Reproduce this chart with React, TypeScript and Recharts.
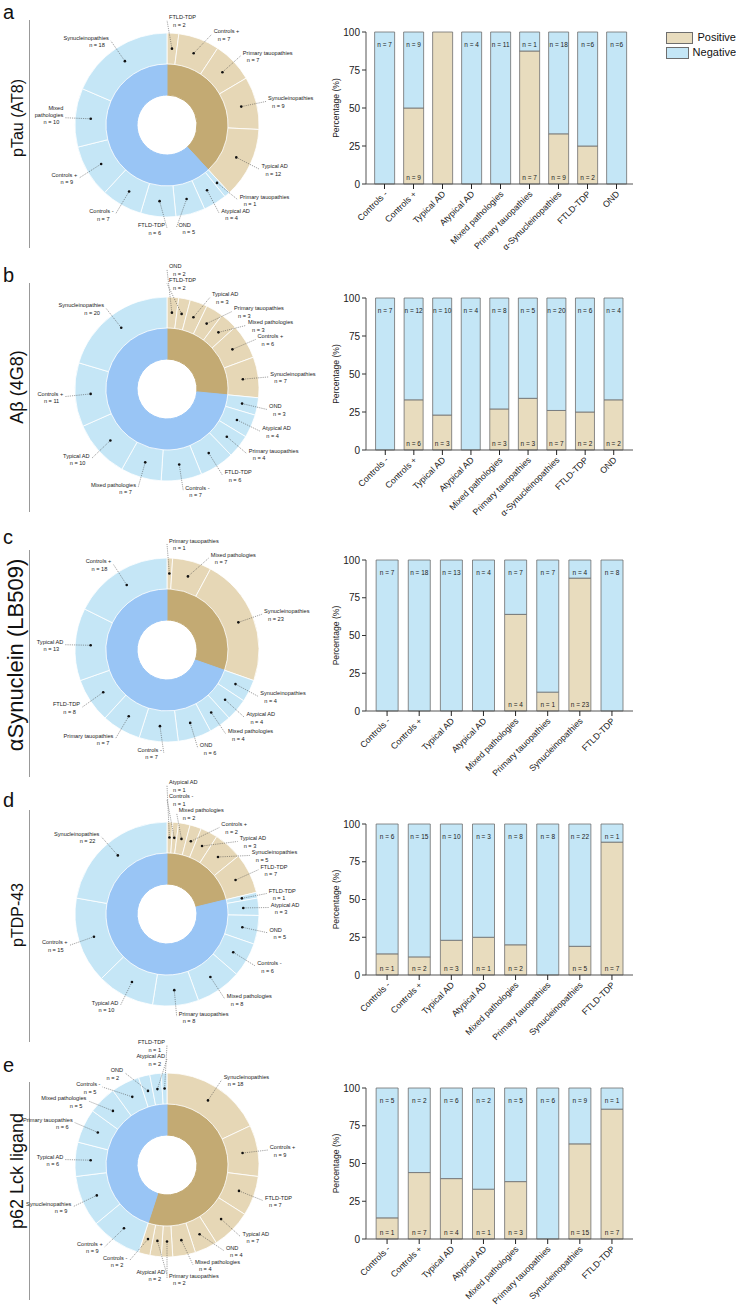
import React from 'react';
import { PieChart, Pie, Cell, BarChart, Bar, XAxis, YAxis, LabelList, Legend } from 'recharts';

const FONT = "'Liberation Sans', Arial, Helvetica, sans-serif";
const POS_OUT = '#E6D7B6';
const NEG_OUT = '#C5E6F6';
const POS_IN = '#C3AA73';
const NEG_IN = '#99C5F5';
const BAR_POS = '#E8DCBE';
const BAR_NEG = '#C4E6F6';
const EDGE = '#6E6E6E';

// ---------- Panel a : pTau (AT8)
const aPosGroups = ['FTLD-TDP', 'Controls +', 'Primary tauopathies', 'Synucleinopathies', 'Typical AD'];
const aPosN = [2, 7, 7, 9, 12];
const aNegGroups = ['Primary tauopathies', 'Atypical AD', 'OND', 'FTLD-TDP', 'Controls -', 'Controls +', 'Mixed pathologies', 'Synucleinopathies'];
const aNegN = [1, 4, 5, 6, 7, 9, 10, 18];
const aCategories = ['Controls -', 'Controls +', 'Typical AD', 'Atypical AD', 'Mixed pathologies', 'Primary tauopathies', 'α-Synucleinopathies', 'FTLD-TDP', 'OND'];
const aPositivePct = [0, 50, 100, 0, 0, 87.5, 33, 25, 0];
const aTopLabels = ['n = 7', 'n = 9', 'n = 13', 'n = 4', 'n = 11', 'n = 1', 'n = 18', 'n =6', 'n =6'];
const aBottomLabels = ['', 'n = 9', '', '', '', 'n = 7', 'n = 9', 'n = 2', ''];

// ---------- Panel b : Aβ (4G8)
const bPosGroups = ['OND', 'FTLD-TDP', 'Typical AD', 'Primary tauopathies', 'Mixed pathologies', 'Controls +', 'Synucleinopathies'];
const bPosN = [2, 2, 3, 3, 3, 6, 7];
const bNegGroups = ['OND', 'Atypical AD', 'Primary tauopathies', 'FTLD-TDP', 'Controls -', 'Mixed pathologies', 'Typical AD', 'Controls +', 'Synucleinopathies'];
const bNegN = [3, 4, 4, 6, 7, 7, 10, 11, 20];
const bCategories = ['Controls -', 'Controls +', 'Typical AD', 'Atypical AD', 'Mixed pathologies', 'Primary tauopathies', 'α-Synucleinopathies', 'FTLD-TDP', 'OND'];
const bPositivePct = [0, 33, 23, 0, 27, 34, 26, 25, 33];
const bTopLabels = ['n = 7', 'n = 12', 'n = 10', 'n = 4', 'n = 8', 'n = 5', 'n = 20', 'n = 6', 'n = 4'];
const bBottomLabels = ['', 'n = 6', 'n = 3', '', 'n = 3', 'n = 3', 'n = 7', 'n = 2', 'n = 2'];

// ---------- Panel c : αSynuclein (LB509)
const cPosGroups = ['Primary tauopathies', 'Mixed pathologies', 'Synucleinopathies'];
const cPosN = [1, 7, 23];
const cNegGroups = ['Synucleinopathies', 'Atypical AD', 'Mixed pathologies', 'OND', 'Controls -', 'Primary tauopathies', 'FTLD-TDP', 'Typical AD', 'Controls +'];
const cNegN = [4, 4, 4, 6, 7, 7, 8, 13, 18];
const cCategories = ['Controls -', 'Controls +', 'Typical AD', 'Atypical AD', 'Mixed pathologies', 'Primary tauopathies', 'Synucleinopathies', 'FTLD-TDP'];
const cPositivePct = [0, 0, 0, 0, 64, 12.5, 88, 0];
const cTopLabels = ['n = 7', 'n = 18', 'n = 13', 'n = 4', 'n = 7', 'n = 7', 'n = 4', 'n = 8'];
const cBottomLabels = ['', '', '', '', 'n = 4', 'n = 1', 'n = 23', ''];

// ---------- Panel d : pTDP-43
const dPosGroups = ['Atypical AD', 'Controls -', 'Mixed pathologies', 'Controls +', 'Typical AD', 'Synucleinopathies', 'FTLD-TDP'];
const dPosN = [1, 1, 2, 2, 3, 5, 7];
const dNegGroups = ['FTLD-TDP', 'Atypical AD', 'OND', 'Controls -', 'Mixed pathologies', 'Primary tauopathies', 'Typical AD', 'Controls +', 'Synucleinopathies'];
const dNegN = [1, 3, 5, 6, 8, 8, 10, 15, 22];
const dCategories = ['Controls -', 'Controls +', 'Typical AD', 'Atypical AD', 'Mixed pathologies', 'Primary tauopathies', 'Synucleinopathies', 'FTLD-TDP'];
const dPositivePct = [14, 12, 23, 25, 20, 0, 19, 88];
const dTopLabels = ['n = 6', 'n = 15', 'n = 10', 'n = 3', 'n = 8', 'n = 8', 'n = 22', 'n = 1'];
const dBottomLabels = ['n = 1', 'n = 2', 'n = 3', 'n = 1', 'n = 2', '', 'n = 5', 'n = 7'];

// ---------- Panel e : p62 Lck ligand
const ePosGroups = ['Synucleinopathies', 'Controls +', 'FTLD-TDP', 'Typical AD', 'OND', 'Mixed pathologies', 'Primary tauopathies', 'Atypical AD', 'Controls -'];
const ePosN = [18, 9, 7, 7, 4, 4, 2, 2, 2];
const eNegGroups = ['Controls +', 'Synucleinopathies', 'Typical AD', 'Primary tauopathies', 'Mixed pathologies', 'Controls -', 'OND', 'Atypical AD', 'FTLD-TDP'];
const eNegN = [9, 9, 6, 6, 5, 5, 2, 2, 1];
const eCategories = ['Controls -', 'Controls +', 'Typical AD', 'Atypical AD', 'Mixed pathologies', 'Primary tauopathies', 'Synucleinopathies', 'FTLD-TDP'];
const ePositivePct = [14, 44, 40, 33, 38, 0, 63, 86];
const eTopLabels = ['n = 5', 'n = 2', 'n = 6', 'n = 2', 'n = 5', 'n = 6', 'n = 9', 'n = 1'];
const eBottomLabels = ['n = 1', 'n = 7', 'n = 4', 'n = 1', 'n = 3', '', 'n = 15', 'n = 7'];

const panelLetters = ['a', 'b', 'c', 'd', 'e'];
const panelTitles = ['pTau (AT8)', 'Aβ (4G8)', 'αSynuclein (LB509)', 'pTDP-43', 'p62 Lck ligand'];

// layout (page coordinates)
const LAYOUT = [
  { letterY: 19, titleY: 118, titleSize: 16, lineY: [20, 248], cy: 125, plotTop: 32, plotBottom: 184, padL: 4, padR: 2 },
  { letterY: 282, titleY: 387, titleSize: 18, lineY: [283, 512], cy: 389, plotTop: 298, plotBottom: 450, padL: 5, padR: 5 },
  { letterY: 544, titleY: 655, titleSize: 22, lineY: [550, 777], cy: 650, plotTop: 560, plotBottom: 711, padL: 5, padR: 5 },
  { letterY: 807, titleY: 915, titleSize: 16, lineY: [810, 1042], cy: 914, plotTop: 824, plotBottom: 975, padL: 5, padR: 5 },
  { letterY: 1072, titleY: 1171, titleSize: 18, lineY: [1082, 1300], cy: 1165, plotTop: 1088, plotBottom: 1239, padL: 5, padR: 5 },
];

const PANELS = [
  { posGroups: aPosGroups, posN: aPosN, negGroups: aNegGroups, negN: aNegN, cats: aCategories, pct: aPositivePct, top: aTopLabels, bottom: aBottomLabels },
  { posGroups: bPosGroups, posN: bPosN, negGroups: bNegGroups, negN: bNegN, cats: bCategories, pct: bPositivePct, top: bTopLabels, bottom: bBottomLabels },
  { posGroups: cPosGroups, posN: cPosN, negGroups: cNegGroups, negN: cNegN, cats: cCategories, pct: cPositivePct, top: cTopLabels, bottom: cBottomLabels },
  { posGroups: dPosGroups, posN: dPosN, negGroups: dNegGroups, negN: dNegN, cats: dCategories, pct: dPositivePct, top: dTopLabels, bottom: dBottomLabels },
  { posGroups: ePosGroups, posN: ePosN, negGroups: eNegGroups, negN: eNegN, cats: eCategories, pct: ePositivePct, top: eTopLabels, bottom: eBottomLabels },
];

const PIE_LEFT = 20;
const PIE_W = 300;
const PIE_H = 270;
const PCX = 147;
const PCY = 135;
const R_HOLE = 30;
const R_MID = 61;
const R_OUT = 92;
const LABEL_R = 102;
const LABEL_GAP = 14;
const LFS = 5.6;

type LabelPos = { i: number; side: number; x: number; y: number };

function layoutLabels(values: number[], cx: number, cy: number, R: number, gap: number): LabelPos[] {
  const total = values.reduce((a, b) => a + b, 0);
  let acc = 0;
  const items: LabelPos[] = values.map((v, i) => {
    const ang = ((acc + v / 2) / total) * 2 * Math.PI;
    acc += v;
    const s = Math.sin(ang);
    return { i, side: s >= 0 ? 1 : -1, x: cx + R * s, y: cy - R * Math.cos(ang) };
  });
  [1, -1].forEach((side) => {
    const g = items.filter((it) => it.side === side).sort((a, b) => a.y - b.y);
    for (let iter = 0; iter < 500; iter++) {
      let moved = false;
      for (let k = 1; k < g.length; k++) {
        const ov = g[k - 1].y + gap - g[k].y;
        if (ov > 0.01) {
          g[k - 1].y -= ov / 2;
          g[k].y += ov / 2;
          moved = true;
        }
      }
      if (!moved) break;
    }
  });
  items.forEach((it) => {
    const dy = it.y - cy;
    const dx = Math.sqrt(Math.max(R * R - dy * dy, 0));
    it.x = cx + it.side * dx;
  });
  return items;
}

const makeLabel = (layout: LabelPos[]) => (props: any) => {
  const { cx, cy, midAngle, innerRadius, outerRadius, index } = props;
  const name: string = props.payload?.name ?? props.name;
  const value = props.payload?.value ?? props.value;
  const L = layout[index];
  if (!L) return null;
  const r = (innerRadius + outerRadius) / 2;
  const a = (-midAngle * Math.PI) / 180;
  const px = cx + r * Math.cos(a);
  const py = cy + r * Math.sin(a);
  const tx = L.x + L.side * 2;
  const anchor = L.side > 0 ? 'start' : 'end';
  const estW = name.length * LFS * 0.5;
  const leftEnd = PIE_LEFT + (L.side < 0 ? tx - estW : tx);
  const sp = name.indexOf(' ');
  let lines = [name];
  if (L.side < 0 && leftEnd < 18 && sp >= 3 && name.length - sp - 1 >= 3) {
    lines = [name.slice(0, sp), name.slice(sp + 1)];
  }
  return (
    <g key={`lab-${index}`}>
      <line x1={px} y1={py} x2={L.x} y2={L.y + 1} stroke="#444" strokeWidth={0.5} strokeDasharray="1.2 1" />
      <circle cx={px} cy={py} r={1.3} fill="#111" />
      {lines.map((ln, j) => (
        <text key={j} x={tx} y={L.y - (lines.length - 1 - j) * 7} fontSize={LFS} fill="#222" textAnchor={anchor} fontFamily={FONT}>{ln}</text>
      ))}
      <text x={tx + L.side * 4} y={L.y + 7.5} fontSize={LFS} fill="#222" textAnchor={anchor} fontFamily={FONT}>{`n = ${value}`}</text>
    </g>
  );
};

function Donut({ panel, cy }: { panel: any; cy: number }) {
  const outer = [
    ...panel.posGroups.map((g: string, i: number) => ({ name: g, value: panel.posN[i], sign: 'pos' })),
    ...panel.negGroups.map((g: string, i: number) => ({ name: g, value: panel.negN[i], sign: 'neg' })),
  ];
  const posTotal = panel.posN.reduce((a: number, b: number) => a + b, 0);
  const negTotal = panel.negN.reduce((a: number, b: number) => a + b, 0);
  const inner = [
    { name: 'Positive', value: posTotal },
    { name: 'Negative', value: negTotal },
  ];
  const layout = layoutLabels(outer.map((d) => d.value), PCX, PCY, LABEL_R, LABEL_GAP);
  return (
    <div style={{ position: 'absolute', left: PIE_LEFT, top: cy - PCY }}>
      <PieChart width={PIE_W} height={PIE_H} margin={{ top: 0, right: 0, bottom: 0, left: 0 }}>
        <Pie data={inner} dataKey="value" cx={PCX} cy={PCY} innerRadius={R_HOLE} outerRadius={R_MID}
          startAngle={90} endAngle={-270} isAnimationActive={false} stroke="none">
          {inner.map((d, i) => (
            <Cell key={i} fill={i === 0 ? POS_IN : NEG_IN} stroke={i === 0 ? POS_IN : NEG_IN} />
          ))}
        </Pie>
        <Pie data={outer} dataKey="value" cx={PCX} cy={PCY} innerRadius={R_MID} outerRadius={R_OUT}
          startAngle={90} endAngle={-270} isAnimationActive={false} stroke="#ffffff" strokeWidth={0.8}
          label={makeLabel(layout)} labelLine={false}>
          {outer.map((d, i) => (
            <Cell key={i} fill={d.sign === 'pos' ? POS_OUT : NEG_OUT} />
          ))}
        </Pie>
      </PieChart>
    </div>
  );
}

const AngledTick = (props: any) => {
  const { x, y, payload } = props;
  return (
    <g transform={`translate(${x},${y})`}>
      <text x={0} y={0} dy={5} textAnchor="end" transform="rotate(-45)" fontSize={8.8} fill="#222" fontFamily={FONT}>
        {payload.value}
      </text>
    </g>
  );
};

const TopLabel = (p: any) => {
  const { x, y, width, value } = p;
  if (!value) return null;
  return (
    <text x={Number(x) + Number(width) / 2} y={Number(y) + 15} textAnchor="middle" fontSize={6.5} fill="#222" fontFamily={FONT}>
      {value}
    </text>
  );
};

const BottomLabel = (p: any) => {
  const { x, y, width, height, value } = p;
  if (!value) return null;
  return (
    <text x={Number(x) + Number(width) / 2} y={Number(y) + Number(height) - 4} textAnchor="middle" fontSize={6.5} fill="#222" fontFamily={FONT}>
      {value}
    </text>
  );
};

const LegendBox = () => (
  <div style={{ fontFamily: FONT, fontSize: 11, color: '#111', lineHeight: '11px' }}>
    <div style={{ display: 'flex', alignItems: 'center', height: 11, marginBottom: 4 }}>
      <div style={{ width: 26, height: 10, background: BAR_POS, border: `1px solid ${EDGE}` }} />
      <span style={{ marginLeft: 4 }}>Positive</span>
    </div>
    <div style={{ display: 'flex', alignItems: 'center', height: 11 }}>
      <div style={{ width: 26, height: 10, background: BAR_NEG, border: `1px solid ${EDGE}` }} />
      <span style={{ marginLeft: 4 }}>Negative</span>
    </div>
  </div>
);

const BAR_LEFT = 300;
const BAR_W = 436;
const PLOT_RIGHT = 633;

function Stacked({ panel, lay, legend }: { panel: any; lay: any; legend: boolean }) {
  const data = panel.cats.map((c: string, i: number) => ({
    cat: c,
    pos: panel.pct[i],
    neg: 100 - panel.pct[i],
    topLabel: panel.top[i],
    botLabel: panel.bottom[i],
  }));
  const mTop = 20;
  const xH = 95;
  const H = lay.plotBottom - lay.plotTop + mTop + xH;
  return (
    <div style={{ position: 'absolute', left: BAR_LEFT, top: lay.plotTop - mTop }}>
      <BarChart width={BAR_W} height={H} data={data} margin={{ top: mTop, right: BAR_W - (PLOT_RIGHT - BAR_LEFT), bottom: 0, left: 6 }}
        barCategoryGap="16%">
        <XAxis dataKey="cat" interval={0} height={xH} padding={{ left: lay.padL, right: lay.padR }}
          tick={<AngledTick />} axisLine={{ stroke: '#555' }} tickLine={{ stroke: '#222' }} tickSize={5} />
        <YAxis domain={[0, 100]} ticks={[0, 25, 50, 75, 100]} width={60} interval={0}
          tick={{ fontSize: 10, fill: '#222', fontFamily: FONT }} axisLine={{ stroke: '#555' }} tickLine={{ stroke: '#333' }} tickSize={4}
          label={{ value: 'Percentage (%)', angle: -90, position: 'center', fontSize: 8.6, fill: '#222', fontFamily: FONT }} />
        <Bar dataKey="pos" stackId="s" fill={BAR_POS} stroke={EDGE} strokeWidth={0.8} isAnimationActive={false}>
          <LabelList dataKey="botLabel" content={BottomLabel} />
        </Bar>
        <Bar dataKey="neg" stackId="s" fill={BAR_NEG} stroke={EDGE} strokeWidth={0.8} isAnimationActive={false}>
          <LabelList dataKey="topLabel" content={TopLabel} />
        </Bar>
        {legend && (
          <Legend layout="horizontal" verticalAlign="middle" align="center"
            wrapperStyle={{ position: 'absolute', left: 366, top: mTop, width: 70, height: 30 }}
            content={() => <LegendBox />} />
        )}
      </BarChart>
    </div>
  );
}

export default function App() {
  return (
    <div style={{ position: 'absolute', left: 0, top: 0, width: 736, height: 1305, background: '#fff', fontFamily: FONT, overflow: 'hidden' }}>
      <svg width={736} height={1305} style={{ position: 'absolute', left: 0, top: 0 }}>
        {LAYOUT.map((l, i) => (
          <g key={i}>
            <text x={3} y={l.letterY} fontSize={20} fill="#111" fontFamily={FONT}>{panelLetters[i]}</text>
            <text x={23} y={l.titleY} fontSize={l.titleSize} fill="#111" fontFamily={FONT} textAnchor="middle"
              transform={`rotate(-90, 23, ${l.titleY})`}>{panelTitles[i]}</text>
            <line x1={29.5} x2={29.5} y1={l.lineY[0]} y2={l.lineY[1]} stroke="#999" strokeWidth={1} />
          </g>
        ))}
      </svg>
      {PANELS.map((p, i) => (
        <React.Fragment key={i}>
          <Donut panel={p} cy={LAYOUT[i].cy} />
          <Stacked panel={p} lay={LAYOUT[i]} legend={i === 0} />
        </React.Fragment>
      ))}
    </div>
  );
}
